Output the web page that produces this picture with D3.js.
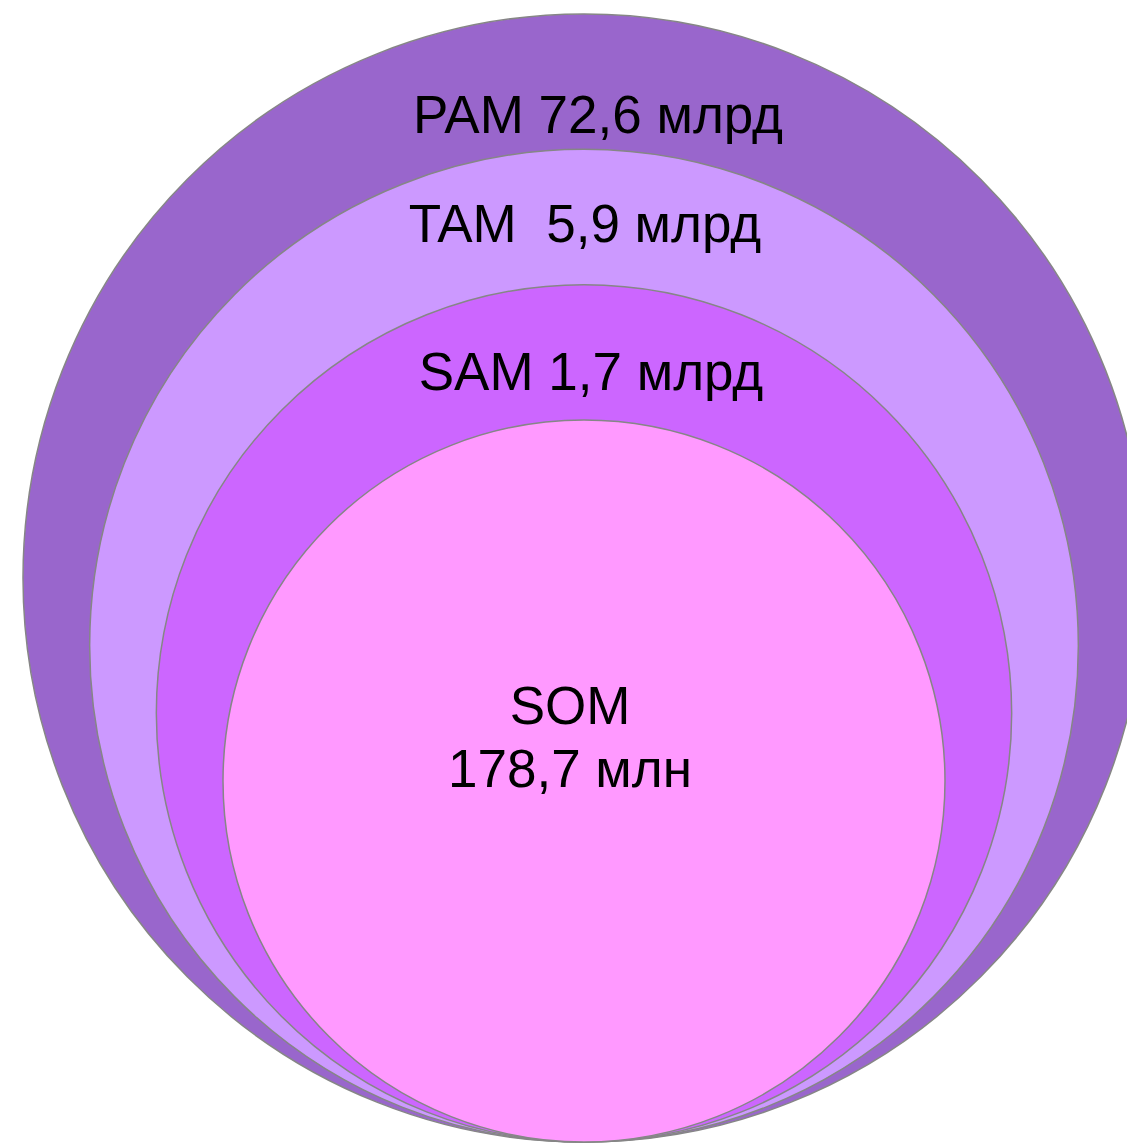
<!DOCTYPE html>
<html>
<head>
<meta charset="utf-8">
<script src="https://cdn.jsdelivr.net/npm/d3@7"></script>
<style>
  body { margin: 0; background: #fff; }
  text { font-family: "Liberation Sans", Arial, sans-serif; white-space: pre; }
</style>
</head>
<body>
<div class="usable"></div>
<script>
// рынки, от большего к меньшему
const markets = ["PAM", "TAM", "SAM", "SOM"];
const values = ["72,6 млрд", "5,9 млрд", "1,7 млрд", "178,7 млн"];
const colors = ["#9966cc", "#cc99ff", "#cc66ff", "#ff99ff"];

const width = 1127, height = 1144;
const cx = 584, bottom = 1142;

let svg = d3.select(".usable").append("svg")
    .attr("width", width)
    .attr("height", height);

// радиус зависит только от уровня вложенности
const rScale = d3.scaleLinear().domain([0, markets.length - 1]).range([561, 361]);
const ryScale = d3.scaleLinear().domain([0, markets.length - 1]).range([564, 361]);

svg.selectAll("ellipse")
    .data(markets)
    .join("ellipse")
    .attr("cx", cx)
    .attr("cy", (d, i) => bottom - ryScale(i))
    .attr("rx", (d, i) => rScale(i))
    .attr("ry", (d, i) => ryScale(i))
    .style("fill", (d, i) => colors[i])
    .style("stroke", "#868686")
    .style("stroke-width", 1.5);

// подписи
const labelX = [598, 585, 591, 570];
const labelY = [133, 242, 390, 724];

markets.forEach((m, i) => {
    let t = svg.append("text")
        .attr("x", labelX[i])
        .attr("y", labelY[i])
        .attr("text-anchor", "middle")
        .attr("font-size", 53)
        .attr("fill", "#000");
    if (m === "SOM") {
        t.text(m);
        svg.append("text")
            .attr("x", labelX[i])
            .attr("y", labelY[i] + 63)
            .attr("text-anchor", "middle")
            .attr("font-size", 53)
            .attr("fill", "#000")
            .text(values[i]);
    } else {
        t.text(m + (m === "TAM" ? "  " : " ") + values[i]);
    }
});
</script>
</body>
</html>
